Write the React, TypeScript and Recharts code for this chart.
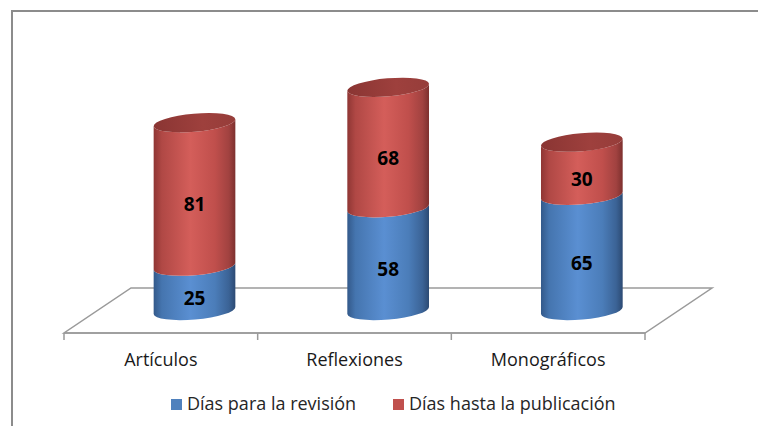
import React from 'react';
import { BarChart, Bar, XAxis, YAxis, LabelList } from 'recharts';

// datos del gráfico
const categories = ['Artículos', 'Reflexiones', 'Monográficos'];
const revision = [25, 58, 65];
const publicacion = [81, 68, 30];
const seriesNames = ['Días para la revisión', 'Días hasta la publicación'];
const seriesColors = ['#4F81BD', '#C0504D'];

const data = categories.map((name, i) => ({
  name,
  revision: revision[i],
  publicacion: publicacion[i],
}));

const W = 758;
const H = 426;
const margin = { top: 85, right: 113, bottom: 63, left: 64 };
const AXIS_H = 30;
const plotBottom = H - margin.bottom - AXIS_H;
const plotLeft = margin.left;
const plotRight = W - margin.right;

// profundidad del "suelo" 3D
const DEPTH_X = 67;
const DEPTH_Y = 45;
const DX = DEPTH_X / 2;
const DY = -DEPTH_Y / 2;
const RY = 9;
const TILT = -5;

const FONT = '"Open Sans", "Liberation Sans", sans-serif';

function cylinderPath(cx: number, a: number, yt: number, yb: number) {
  const t = (TILT * Math.PI) / 180;
  const c = Math.cos(t);
  const s = Math.sin(t);
  const lx = cx - a * c;
  const rx = cx + a * c;
  const lo = -a * s;
  const ro = a * s;
  return (
    `M${lx},${yt + lo} L${lx},${yb + lo} ` +
    `A${a},${RY} ${TILT} 0 0 ${rx},${yb + ro} ` +
    `L${rx},${yt + ro} ` +
    `A${a},${RY} ${TILT} 0 1 ${lx},${yt + lo} Z`
  );
}

const makeCylinder = (gradId: string, capId?: string) => (props: any) => {
  const { x, y, width, height } = props;
  if (!width || height == null) return null;
  const a = width / 2;
  const cx = x + a + DX;
  const yt = y + DY;
  const yb = y + height + DY;
  return (
    <g>
      <path d={cylinderPath(cx, a, yt, yb)} fill={`url(#${gradId})`} />
      {capId && (
        <ellipse
          cx={cx}
          cy={yt}
          rx={a}
          ry={RY}
          fill={`url(#${capId})`}
          transform={`rotate(${TILT} ${cx} ${yt})`}
        />
      )}
    </g>
  );
};

const BlueCylinder = makeCylinder('gradBlue');
const RedCylinder = makeCylinder('gradRed', 'gradRedCap');

const SegmentLabel = (props: any) => {
  const { x, y, width, height, value } = props;
  return (
    <text
      x={x + width / 2 + DX}
      y={y + height / 2 + DY + 10}
      textAnchor="middle"
      dominantBaseline="central"
      fontFamily={FONT}
      fontWeight={700}
      fontSize={19}
      fill="#000"
    >
      {value}
    </text>
  );
};

const AxisTick = (props: any) => {
  const { x, payload } = props;
  return (
    <text x={x} y={plotBottom + 33} textAnchor="middle" fontFamily={FONT} fontSize={18} fill="#1a1a1a">
      {payload.value}
    </text>
  );
};

function Background() {
  const n = categories.length;
  const step = (plotRight - plotLeft) / n;
  const ticks = Array.from({ length: n + 1 }, (_, i) => plotLeft + i * step);
  const floor = [
    [plotLeft, plotBottom],
    [plotRight, plotBottom],
    [plotRight + DEPTH_X, plotBottom - DEPTH_Y],
    [plotLeft + DEPTH_X, plotBottom - DEPTH_Y],
  ]
    .map((p) => p.join(','))
    .join(' ');
  return (
    <svg width={W} height={H} style={{ position: 'absolute', left: 0, top: 0 }}>
      <rect x={0} y={0} width={W} height={H} fill="#fff" />
      <path d={`M12,${H} L12,11 L${W},11`} stroke="#8c8c8c" strokeWidth={2} fill="none" />
      <polygon points={floor} fill="#fff" stroke="#9a9a9a" strokeWidth={1.5} />
      {ticks.map((tx, i) => (
        <line key={i} x1={tx} x2={tx} y1={plotBottom} y2={plotBottom + 7} stroke="#9a9a9a" strokeWidth={1.5} />
      ))}
      {/* leyenda */}
      <rect x={171} y={399} width={11} height={11} fill={seriesColors[0]} />
      <text x={187} y={410} fontFamily={FONT} fontSize={18} fill="#262626">
        {seriesNames[0]}
      </text>
      <rect x={393} y={399} width={11} height={11} fill={seriesColors[1]} />
      <text x={409} y={410} fontFamily={FONT} fontSize={18} fill="#262626">
        {seriesNames[1]}
      </text>
    </svg>
  );
}

export default function App() {
  return (
    <div style={{ position: 'absolute', left: 0, top: 0, width: W, height: H, background: '#fff' }}>
      <Background />
      <div style={{ position: 'absolute', left: 0, top: 0 }}>
        <BarChart width={W} height={H} data={data} margin={margin}>
          <defs>
            <linearGradient id="gradBlue" x1="0" y1="0" x2="1" y2="0">
              <stop offset="0%" stopColor="#33598A" />
              <stop offset="10%" stopColor="#4575AF" />
              <stop offset="45%" stopColor="#5A8FD2" />
              <stop offset="75%" stopColor="#4B7DB9" />
              <stop offset="92%" stopColor="#3B6396" />
              <stop offset="100%" stopColor="#2C4A73" />
            </linearGradient>
            <linearGradient id="gradRed" x1="0" y1="0" x2="1" y2="0">
              <stop offset="0%" stopColor="#8F3634" />
              <stop offset="10%" stopColor="#B04845" />
              <stop offset="45%" stopColor="#D45E5A" />
              <stop offset="75%" stopColor="#C04F4C" />
              <stop offset="92%" stopColor="#A14240" />
              <stop offset="100%" stopColor="#7D302E" />
            </linearGradient>
            <linearGradient id="gradRedCap" x1="0" y1="0" x2="1" y2="0">
              <stop offset="0%" stopColor="#8A3533" />
              <stop offset="60%" stopColor="#9E403D" />
              <stop offset="100%" stopColor="#963D3A" />
            </linearGradient>
          </defs>
          <XAxis
            dataKey="name"
            height={AXIS_H}
            interval={0}
            tickLine={false}
            axisLine={{ stroke: '#9a9a9a', strokeWidth: 1.5 }}
            tick={<AxisTick />}
          />
          <YAxis hide domain={[0, 140]} />
          <Bar
            dataKey="revision"
            name={seriesNames[0]}
            stackId="a"
            barSize={82}
            fill={seriesColors[0]}
            shape={BlueCylinder}
            isAnimationActive={false}
          >
            <LabelList dataKey="revision" content={SegmentLabel} />
          </Bar>
          <Bar
            dataKey="publicacion"
            name={seriesNames[1]}
            stackId="a"
            barSize={82}
            fill={seriesColors[1]}
            shape={RedCylinder}
            isAnimationActive={false}
          >
            <LabelList dataKey="publicacion" content={SegmentLabel} />
          </Bar>
        </BarChart>
      </div>
    </div>
  );
}
